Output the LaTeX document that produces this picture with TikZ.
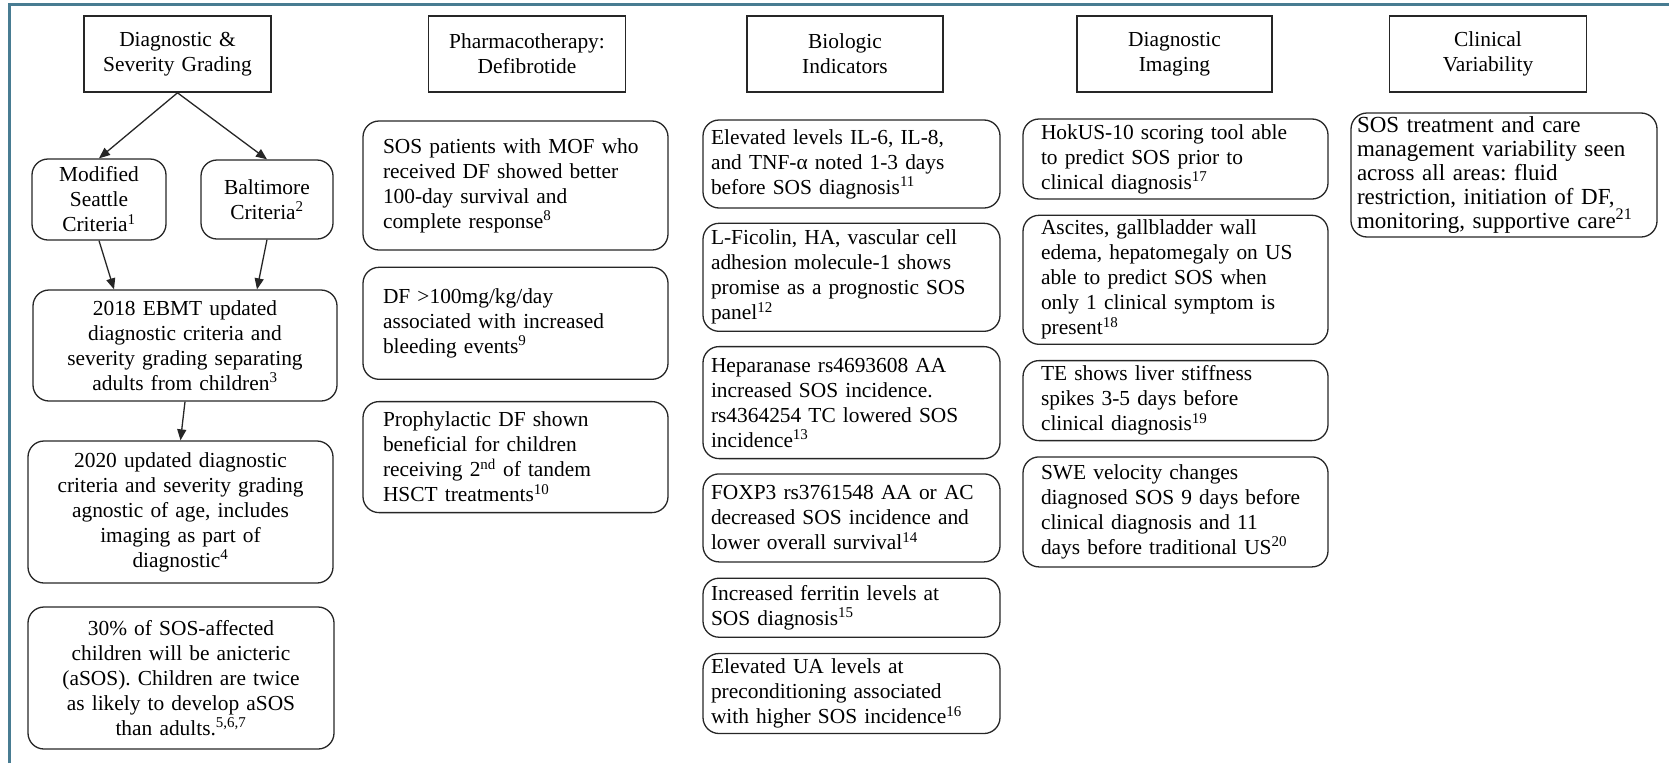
\documentclass[tikz,border=0pt]{standalone}
\usepackage{fontspec}
\setmainfont{Liberation Serif}
\usetikzlibrary{positioning, arrows.meta}
\definecolor{framecol}{RGB}{72,124,146}
\frenchspacing

\begin{document}
\begin{tikzpicture}[x=1pt, y=-1pt, >={Triangle[length=11pt, width=9pt]},
    font=\fontsize{21.4}{25}\selectfont,
    head/.style={draw=black!85, line width=1.6pt, minimum height=76pt, align=center, inner xsep=10pt, text width=177pt},
    card/.style={draw=black!85, line width=1.3pt, rounded corners=16pt, inner ysep=2pt, align=left},
    mid/.style={card, align=center, inner xsep=6pt},
    col2/.style={card, inner xsep=20pt, text width=265pt},
    col3/.style={card, inner xsep=8pt, text width=281pt},
    col4/.style={card, inner xsep=18pt, text width=269pt},
    col5/.style={card, inner xsep=6pt, inner ysep=1pt, text width=294pt, font=\fontsize{23}{24}\selectfont}]
    \useasboundingbox (0,0) rectangle (1669,763);
    \draw[framecol, line width=3pt] (9,763) -- (9,4) -- (1669,4);

    \node[head, text width=167pt] (diag) at (177.5,54) {Diagnostic \&\\Severity Grading};
    \node[head] (pharma) at (527,54) {Pharmacotherapy:\\Defibrotide};
    \node[head, text width=176pt] (bio) at (845,54) {Biologic\\Indicators};
    \node[head, text width=175pt] (imaging) at (1174.5,54) {Diagnostic\\Imaging};
    \node[head] (clinic) at (1488,54) {Clinical\\Variability};

    \node[mid, text width=122pt, minimum height=81pt] (seattle) at (99,199.5) {Modified\\Seattle\\Criteria\textsuperscript{1}};
    \node[mid, text width=120pt, minimum height=79pt] (balt) at (267,199.5) {Baltimore\\Criteria\textsuperscript{2}};
    \node[mid, text width=292pt, minimum height=111pt] (ebmt) at (185,345.5) {2018 EBMT updated\\diagnostic criteria and\\severity grading separating\\adults from children\textsuperscript{3}};
    \node[mid, text width=293pt, minimum height=142pt] (upd) at (180.5,512) {2020 updated diagnostic\\criteria and severity grading\\agnostic of age, includes\\imaging as part of\\diagnostic\textsuperscript{4}};
    \node[mid, text width=294pt, minimum height=142pt] (asos) at (181,678) {30\% of SOS-affected\\children will be anicteric\\(aSOS). Children are twice\\as likely to develop aSOS\\than adults.\textsuperscript{5,6,7}};

    \node[col2, minimum height=129pt] (mof) at (515.5,185.5) {SOS patients with MOF who\\received DF showed better\\100-day survival and\\complete response\textsuperscript{8}};
    \node[col2, minimum height=112pt, below=16pt of mof] (dose) {DF >100mg/kg/day\\associated with increased\\bleeding events\textsuperscript{9}};
    \node[col2, minimum height=111pt, below=21pt of dose] (tandem) {Prophylactic DF shown\\beneficial for children\\receiving 2\textsuperscript{nd} of tandem\\HSCT treatments\textsuperscript{10}};

    \node[col3, minimum height=88pt] (il) at (851.5,164) {Elevated levels IL-6, IL-8,\\and TNF-α noted 1-3 days\\before SOS diagnosis\textsuperscript{11}};
    \node[col3, minimum height=108pt, below=14pt of il] (ficolin) {L-Ficolin, HA, vascular cell\\adhesion molecule-1 shows\\promise as a prognostic SOS\\panel\textsuperscript{12}};
    \node[col3, minimum height=112pt, below=14pt of ficolin] (hepa) {Heparanase rs4693608 AA\\increased SOS incidence.\\rs4364254 TC lowered SOS\\incidence\textsuperscript{13}};
    \node[col3, minimum height=88pt, below=14pt of hepa] (foxp) {FOXP3 rs3761548 AA or AC\\decreased SOS incidence and\\lower overall survival\textsuperscript{14}};
    \node[col3, minimum height=59pt, below=15pt of foxp] (ferritin) {Increased ferritin levels at\\SOS diagnosis\textsuperscript{15}};
    \node[col3, minimum height=80pt, below=15pt of ferritin] (ua) {Elevated UA levels at\\preconditioning associated\\with higher SOS incidence\textsuperscript{16}};

    \node[col4, minimum height=80pt] (hokus) at (1175.5,159) {HokUS-10 scoring tool able\\to predict SOS prior to\\clinical diagnosis\textsuperscript{17}};
    \node[col4, minimum height=129pt, below=15pt of hokus] (ascites) {Ascites, gallbladder wall\\edema, hepatomegaly on US\\able to predict SOS when\\only 1 clinical symptom is\\present\textsuperscript{18}};
    \node[col4, minimum height=80pt, below=15pt of ascites] (te) {TE shows liver stiffness\\spikes 3-5 days before\\clinical diagnosis\textsuperscript{19}};
    \node[col4, minimum height=110pt, below=15pt of te] (swe) {SWE velocity changes\\diagnosed SOS 9 days before\\clinical diagnosis and 11\\days before traditional US\textsuperscript{20}};

    \node[col5, minimum height=124pt] (care) at (1504,175) {SOS treatment and care\\management variability seen\\across all areas: fluid\\restriction, initiation of DF,\\monitoring, supportive care\textsuperscript{21}};

    \path[->, black!85, line width=1.3pt]
        (diag.south) edge (seattle.north)
        (diag.south) edge (balt.north)
        (seattle.south) edge ([xshift=15pt]seattle.south |- ebmt.north)
        (balt.south) edge ([xshift=-10pt]balt.south |- ebmt.north)
        (ebmt.south) edge (upd.north);
\end{tikzpicture}
\end{document}
